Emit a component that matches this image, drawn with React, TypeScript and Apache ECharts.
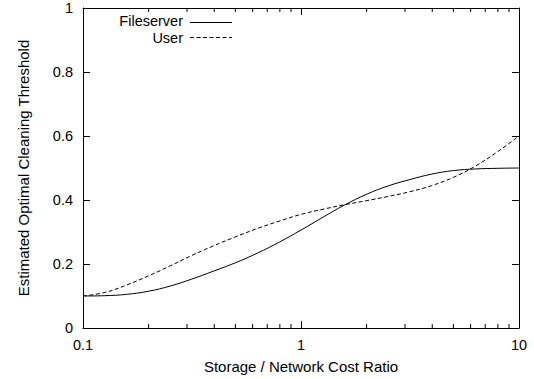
import React, { useEffect, useRef } from "react";
import * as echarts from "echarts";

const xValues = [0.1, 0.126, 0.158, 0.2, 0.251, 0.316, 0.398, 0.501, 0.631, 0.794, 1, 1.26, 1.58, 2, 2.51, 3.16, 3.98, 5.01, 6.31, 7.94, 10];
const fileserver = [0.1, 0.101, 0.105, 0.115, 0.131, 0.153, 0.178, 0.204, 0.234, 0.268, 0.306, 0.346, 0.384, 0.418, 0.444, 0.464, 0.481, 0.492, 0.497, 0.499, 0.5];
const user = [0.1, 0.111, 0.134, 0.163, 0.194, 0.227, 0.257, 0.285, 0.311, 0.334, 0.355, 0.371, 0.385, 0.398, 0.411, 0.426, 0.445, 0.471, 0.506, 0.55, 0.6];
const minorTicks = [0.2, 0.3, 0.4, 0.5, 0.6, 0.7, 0.8, 0.9, 2, 3, 4, 5, 6, 7, 8, 9];
const seriesNames = ["Fileserver", "User"];
const xLabelTitle = "Storage / Network Cost Ratio";
const yLabelTitle = "Estimated Optimal Cleaning Threshold";

const FONT = "'Liberation Sans', Arial, Helvetica, sans-serif";

export default function App() {
  const ref = useRef<HTMLDivElement>(null);
  useEffect(() => {
    if (!ref.current) return;
    const chart = echarts.init(ref.current, undefined, { renderer: "svg" });
    const axisLine = { show: true, onZero: false, lineStyle: { color: "#000", width: 1 } };
    const tickLabel = { color: "#000", fontSize: 14.5, fontFamily: FONT };
    chart.setOption({
      animation: false,
      backgroundColor: "#fff",
      grid: { left: 83, right: 15, top: 8, bottom: 51 },
      graphic: [
        { type: "text", x: 183, y: 21, style: { text: seriesNames[0], fill: "#000", font: `14.5px ${FONT}`, align: "right", verticalAlign: "middle", lineHeight: 14 } },
        { type: "text", x: 183, y: 38, style: { text: seriesNames[1], fill: "#000", font: `14.5px ${FONT}`, align: "right", verticalAlign: "middle", lineHeight: 14 } },
        { type: "line", shape: { x1: 190, y1: 22.5, x2: 232, y2: 22.5 }, style: { stroke: "#000", lineWidth: 1 } },
        { type: "line", shape: { x1: 190, y1: 37.5, x2: 232, y2: 37.5 }, style: { stroke: "#000", lineWidth: 1, lineDash: [4, 2.5] } },
      ],
      xAxis: [
        {
          type: "log", logBase: 10, min: 0.1, max: 10, position: "bottom",
          axisLine, axisTick: { show: true, inside: true, length: 7, lineStyle: { color: "#000" } },
          axisLabel: { ...tickLabel, margin: 9, formatter: (v: number) => String(+Number(v).toPrecision(3)) },
          splitLine: { show: false },
          name: xLabelTitle, nameLocation: "middle", nameGap: 31,
          nameTextStyle: { color: "#000", fontSize: 15, fontFamily: FONT },
        },
        {
          type: "log", logBase: 10, min: 0.1, max: 10, position: "top",
          axisLine, axisTick: { show: true, inside: true, length: 7, lineStyle: { color: "#000" } },
          axisLabel: { show: false }, splitLine: { show: false },
        },
      ],
      yAxis: [
        {
          type: "value", min: 0, max: 1, interval: 0.2, position: "left",
          axisLine, axisTick: { show: true, inside: true, length: 7, lineStyle: { color: "#000" } },
          axisLabel: { ...tickLabel, margin: 10 },
          splitLine: { show: false },
          name: yLabelTitle, nameLocation: "middle", nameGap: 52, nameRotate: 90,
          nameTextStyle: { color: "#000", fontSize: 15, fontFamily: FONT },
        },
        {
          type: "value", min: 0, max: 1, interval: 0.2, position: "right",
          axisLine, axisTick: { show: true, inside: true, length: 7, lineStyle: { color: "#000" } },
          axisLabel: { show: false }, splitLine: { show: false },
        },
      ],
      series: [
        {
          name: seriesNames[0], type: "line", xAxisIndex: 0, yAxisIndex: 0,
          data: xValues.map((x, i) => [x, fileserver[i]]),
          smooth: 0.4, showSymbol: false, symbol: "none",
          lineStyle: { color: "#000", width: 1, type: "solid" },
          itemStyle: { color: "#000" },
        },
        {
          name: seriesNames[1], type: "line", xAxisIndex: 0, yAxisIndex: 0,
          data: xValues.map((x, i) => [x, user[i]]),
          smooth: 0.4, showSymbol: false, symbol: "none",
          lineStyle: { color: "#000", width: 1, type: [4, 2.5] },
          itemStyle: { color: "#000" },
        },
        {
          name: "minorTicks", type: "custom", xAxisIndex: 0, yAxisIndex: 0,
          silent: true, clip: false,
          data: minorTicks.map((v) => [v, 0]),
          encode: { x: 0, y: 1 },
          renderItem: (params: any, api: any) => {
            const v = api.value(0);
            const b = api.coord([v, 0]);
            const t = api.coord([v, 1]);
            const style = { stroke: "#000", lineWidth: 1 };
            return {
              type: "group",
              children: [
                { type: "line", shape: { x1: b[0], y1: b[1], x2: b[0], y2: b[1] - 4 }, style },
                { type: "line", shape: { x1: t[0], y1: t[1], x2: t[0], y2: t[1] + 4 }, style },
              ],
            };
          },
        },
      ],
    });
    return () => chart.dispose();
  }, []);
  return <div ref={ref} style={{ position: "fixed", left: 0, top: 0, width: 534, height: 379 }} />;
}
